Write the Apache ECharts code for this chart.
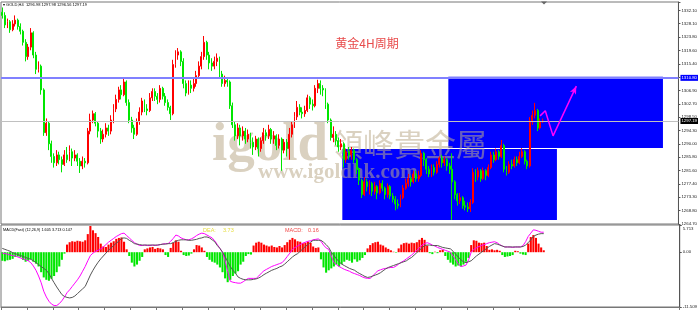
<!DOCTYPE html>
<html><head><meta charset="utf-8">
<script src="https://cdn.jsdelivr.net/npm/echarts@6/dist/echarts.min.js"></script>
<style>html,body{margin:0;padding:0;background:#fff}#c{width:700px;height:310px}</style>
</head><body><div id="c"></div>
<script>
// ---- data ----
const priorClose = 1331.5;
const closes = [1330.5,1327.5,1328.5,1326.0,1327.8,1329.0,1327.0,1325.5,1322.0,1317.5,
1320.5,1325.0,1318.0,1313.5,1314.5,1307.0,1293.5,1296.5,1290.0,1286.0,
1284.0,1286.5,1285.0,1283.5,1286.5,1285.0,1287.5,1285.5,1286.5,1284.5,
1283.0,1284.5,1284.0,1294.0,1297.5,1299.5,1296.5,1294.0,1291.5,1293.0,
1295.0,1294.0,1297.5,1301.0,1304.0,1307.0,1305.5,1309.5,1303.0,1297.5,
1295.0,1293.0,1297.0,1300.0,1303.5,1301.0,1300.5,1304.5,1306.5,1305.0,
1304.0,1307.5,1305.0,1303.0,1301.5,1299.5,1315.0,1318.0,1319.0,1316.0,
1309.0,1306.0,1308.5,1307.5,1309.0,1311.5,1314.5,1317.5,1322.0,1318.0,
1315.5,1314.5,1316.0,1317.0,1312.0,1309.0,1310.0,1309.5,1302.0,1296.0,
1292.5,1295.0,1292.5,1294.0,1291.5,1293.0,1290.5,1289.0,1291.5,1288.5,
1291.0,1293.5,1292.5,1294.5,1291.5,1292.5,1289.5,1291.5,1288.0,1290.5,
1288.5,1293.0,1296.0,1298.5,1301.5,1300.0,1299.5,1300.5,1304.5,1302.5,
1302.0,1307.5,1309.0,1307.5,1307.0,1302.5,1297.5,1292.0,1293.0,1291.0,
1289.0,1290.0,1285.0,1287.5,1286.5,1288.0,1285.0,1282.0,1278.5,1274.0,
1278.0,1276.5,1277.5,1275.0,1276.5,1274.5,1277.5,1276.0,1274.0,1276.5,
1273.5,1272.5,1271.0,1270.5,1273.0,1276.0,1277.5,1279.0,1278.0,1280.5,
1279.0,1280.0,1287.0,1285.0,1282.0,1280.5,1282.5,1281.0,1283.5,1285.5,
1284.0,1285.0,1283.0,1282.0,1278.0,1274.0,1272.0,1273.0,1270.5,1270.0,
1269.5,1271.5,1281.0,1279.5,1281.5,1279.0,1281.5,1280.0,1282.5,1286.5,
1285.0,1287.5,1286.0,1289.5,1282.0,1281.0,1283.5,1283.0,1285.0,1284.0,
1286.0,1287.5,1284.5,1283.0,1297.0,1299.0,1300.5,1295.0,1296.98,1297.19];
const highs = [1333,1331.5,1329.5,1329,1329,1330.5,1329.5,1328,1326,1323,
1321.5,1326.5,1325.5,1319,1316,1315,1307.5,1298,1297,1291,
1287,1288,1287.5,1286,1288,1289,1289.5,1288.5,1288,1287,
1285.5,1286,1285.5,1295,1299.5,1300.5,1300,1297,1295,1294.5,
1296.5,1296,1299,1302.5,1305.5,1308,1308.5,1310.7,1310,1304,
1298.5,1296,1298,1301.5,1304.5,1304,1302.5,1306,1307.5,1307.5,
1306,1308.5,1308,1306,1304,1302,1316.5,1319.5,1320.2,1319.5,
1317,1310,1310,1310,1310.5,1313,1316,1319,1324,1322.5,
1319,1317,1317.5,1318.5,1317.5,1313,1311.5,1311,1310,1303,
1297,1296.5,1296,1295.5,1295,1294.5,1293.5,1292,1292.5,1292,
1292,1295,1294.5,1296,1295,1294,1293,1293,1292,1291.5,
1291.5,1295,1297,1300,1303.5,1302.5,1301.5,1302,1305.5,1305,
1304,1308.5,1310.2,1310,1308.5,1307.5,1303,1298,1295.5,1294,
1292,1291.5,1290.5,1288.5,1289,1289,1288.5,1285.5,1282.5,1279,
1279.5,1279,1278.5,1278,1278,1277,1278.5,1278.5,1276.5,1277.5,
1277,1274.5,1273.5,1272.5,1274,1277,1279,1280.5,1280,1281.5,
1281.5,1281.5,1288,1287.5,1285.5,1283,1283.5,1283.5,1284.5,1286,
1286.5,1286,1285.5,1284,1287,1278.5,1274.5,1274.5,1273.5,1272,
1271.5,1272.5,1282.3,1282,1282.5,1282,1282.5,1282,1283.5,1287.5,
1287.5,1288.5,1288,1291.2,1290,1283,1284.5,1285,1286,1286,
1287.5,1288.6,1288,1285,1298.4,1300.5,1302.9,1301,1298,1297.98];
const lows = [1329.5,1326.5,1326.5,1325,1325.5,1327,1326,1324.5,1321,1316,
1316.5,1319.5,1317,1312,1312.5,1305.5,1292.5,1292.5,1288,1284,
1282.5,1283,1283.5,1281,1283,1284,1284.5,1283,1284.5,1283,
1280.8,1282,1282.5,1283.5,1293,1296.5,1295.5,1292,1290,1290.5,
1292,1292.5,1293,1296.5,1300,1303,1304,1305,1302,1296.5,
1293.5,1291.5,1292.5,1296,1299,1300,1299,1300,1303.5,1303.5,
1302.5,1303,1304,1302,1300.5,1297.5,1299,1314,1316.5,1314.5,
1307.5,1305,1305.5,1306,1306.5,1308,1310.5,1313.5,1316.5,1316.5,
1313.5,1313,1313.5,1314.5,1311,1308,1308,1308,1301,1295,
1291,1291.5,1289.5,1291,1290,1290.5,1288.5,1286.5,1288,1286,
1287.5,1290,1291,1291.5,1290,1290,1288,1288.5,1281.5,1287,
1286,1285,1292,1295,1297.5,1299,1298,1298.5,1300,1301,
1300.5,1301.5,1306,1305.5,1305,1301,1296.5,1291,1290.5,1289.5,
1287.5,1288,1282.5,1284,1285,1285,1284,1280.5,1277,1272.9,
1273.5,1275,1274,1273.5,1274,1272.5,1274,1275,1272.5,1273,
1272.5,1271.5,1269,1269.5,1270,1272.5,1275.5,1276.5,1276.5,1277.5,
1278,1278,1279.5,1283,1280.5,1279.5,1279.5,1280,1280.5,1282.5,
1282.5,1283,1281.5,1280.5,1266,1272.5,1270.5,1271,1269.5,1269,
1268.5,1268.5,1271,1278,1278.5,1278,1278.5,1278.5,1279.5,1282,
1284,1284.5,1285,1285.5,1281,1280,1280.5,1282,1282.5,1283,
1283.5,1285.5,1283.5,1282,1282.5,1296,1298,1294,1294.5,1296.56];
const macdHist = [-1.8,-1.9,-1.7,-1.6,-1.4,-1.0,-0.9,-1.1,-1.6,-2.0,
-1.8,-1.5,-2.0,-2.4,-3.0,-4.2,-5.3,-5.8,-6.0,-5.6,
-5.0,-4.2,-3.0,-1.6,-0.3,1.6,2.1,2.3,2.2,2.4,
2.3,2.2,2.5,3.8,5.5,4.6,4.0,3.2,1.8,1.2,
1.1,1.6,2.0,2.3,2.8,3.0,3.1,2.2,0.6,-0.8,
-2.2,-3.0,-2.6,-1.8,-1.0,0.6,0.8,1.0,1.1,0.7,
0.9,0.8,0.6,-0.6,-1.0,0.9,2.0,2.5,2.2,0.3,
-0.6,-0.8,-0.7,-0.3,0.6,1.5,1.4,1.0,0.3,-1.0,
-1.6,-2.0,-2.2,-2.6,-3.2,-4.2,-5.5,-6.3,-5.8,-5.0,
-4.5,-4.0,-2.6,-2.0,-0.8,-0.4,-0.5,1.4,2.0,2.2,
2.0,1.6,1.4,1.2,1.4,1.1,1.0,1.3,1.0,1.5,
2.1,2.6,3.0,2.7,2.3,2.2,1.9,2.0,2.2,2.0,
1.2,0.9,1.0,-1.5,-3.2,-4.3,-3.8,-3.4,-3.0,-2.6,
-3.0,-2.5,-2.0,-1.6,-1.8,-2.2,-1.5,-2.0,-1.7,-1.2,
-0.6,0.8,1.5,1.9,2.1,2.2,1.6,1.4,1.0,0.7,
0.4,0.1,-0.1,0.8,1.6,1.9,2.0,1.8,2.0,1.9,
2.1,2.6,3.0,2.6,1.4,-0.2,-0.4,0.1,-0.2,0.4,
0.5,-0.8,-1.6,-2.2,-2.6,-3.0,-2.8,-3.0,-2.6,-2.0,
-1.2,1.5,2.5,2.4,2.0,1.9,2.0,1.3,0.5,0.6,
0.4,0.5,0.3,-0.6,-1.0,-0.9,-0.8,-0.6,0.3,0.2,
-0.3,-0.5,-0.6,1.8,3.2,3.6,3.0,1.8,1.0,0.4];
const difLine = [-0.2,-0.3,-0.4,-0.6,-0.7,-0.8,-1.0,-1.2,-1.4,-1.6,
-1.8,-2.2,-2.9,-3.8,-5.0,-6.4,-8.2,-9.4,-10.3,-10.9,
-11.2,-11.2,-10.8,-10.2,-9.4,-8.5,-7.9,-7.2,-6.5,-5.8,
-5.0,-4.0,-3.0,-1.8,-0.7,-0.2,0.2,0.4,0.7,1.1,
1.6,2.1,2.5,2.9,3.3,3.6,3.9,4.0,3.5,3.0,
2.5,2.0,1.7,1.4,1.4,1.5,1.4,1.4,1.5,1.4,
1.5,1.6,1.7,1.8,1.8,2.3,2.9,3.6,3.4,3.0,
2.8,2.6,2.6,2.8,3.1,3.5,3.8,4.0,3.9,3.6,
3.3,3.0,2.4,1.6,0.8,0.0,-1.8,-4.0,-6.1,-6.3,
-6.4,-6.5,-6.5,-6.2,-5.8,-5.5,-5.5,-5.5,-5.5,-5.0,
-4.4,-3.9,-3.6,-3.3,-3.0,-2.8,-2.6,-2.4,-2.2,-1.6,
-0.9,-0.2,0.6,1.0,1.3,1.6,1.9,2.1,2.3,2.4,
2.6,2.7,2.8,2.3,1.5,0.9,0.6,-0.8,-2.2,-2.6,
-3.0,-3.3,-3.6,-3.8,-4.0,-4.3,-4.5,-4.7,-4.9,-5.2,
-5.4,-5.5,-5.5,-5.0,-4.4,-3.9,-3.7,-3.5,-3.4,-3.3,
-3.2,-3.2,-2.9,-2.5,-2.1,-1.8,-1.4,-1.0,-0.6,-0.1,
0.4,0.9,1.5,1.8,2.0,1.8,1.5,1.3,1.0,0.8,
0.6,0.4,0.2,0.0,-0.8,-1.6,-2.4,-3.0,-2.9,-2.7,
-1.6,0.0,0.6,0.9,1.2,1.4,1.6,1.8,2.0,2.1,
2.2,2.0,1.6,1.3,1.1,1.1,1.1,1.0,1.1,1.1,
1.1,1.4,2.2,3.3,4.0,4.7,4.6,4.4,4.2,4.2];
const deaLine = [0.8,0.6,0.4,0.2,-0.1,-0.3,-0.5,-0.7,-0.9,-1.1,
-1.3,-1.5,-1.8,-2.2,-2.6,-3.0,-3.4,-3.8,-4.5,-5.5,
-6.4,-7.3,-8.1,-8.9,-9.3,-9.5,-9.6,-9.5,-9.2,-8.7,
-8.2,-7.7,-7.2,-6.0,-4.8,-3.8,-2.9,-2.1,-1.4,-0.8,
-0.2,0.4,0.9,1.4,1.9,2.3,2.9,3.0,2.9,2.5,
2.2,1.8,1.7,1.6,1.5,1.5,1.5,1.5,1.5,1.5,
1.5,1.6,1.7,1.7,1.8,1.8,2.0,2.3,2.5,2.6,
2.6,2.6,2.5,2.5,2.6,2.7,2.9,3.0,3.2,3.2,
3.0,2.6,2.2,1.4,0.8,0.0,-0.9,-2.0,-3.0,-3.8,
-4.4,-5.2,-5.5,-5.7,-5.8,-5.8,-5.8,-5.7,-5.6,-5.4,
-5.1,-4.7,-4.4,-4.1,-3.8,-3.6,-3.4,-3.1,-2.9,-2.5,
-2.0,-1.5,-1.0,-0.6,-0.3,0.2,0.7,1.2,1.6,2.1,
2.5,2.5,2.5,2.5,2.1,1.6,1.0,0.0,-0.7,-1.4,
-2.0,-2.5,-2.8,-3.1,-3.4,-3.6,-3.8,-4.2,-4.5,-4.8,
-5.1,-5.3,-5.2,-5.0,-4.8,-4.6,-4.3,-3.9,-3.5,-3.2,
-3.0,-2.8,-2.6,-2.4,-2.2,-2.0,-1.8,-1.4,-1.1,-0.6,
-0.1,0.4,0.9,1.4,1.5,1.5,1.4,1.4,1.4,1.2,
1.0,0.9,0.8,0.7,0.2,-0.4,-1.0,-1.6,-2.0,-2.2,
-2.0,-1.8,-1.3,-0.8,-0.4,0.0,0.4,0.8,1.2,1.5,
1.8,1.7,1.5,1.3,1.1,1.1,1.1,1.1,1.1,1.1,
1.1,1.2,1.5,2.0,2.6,3.3,3.6,3.8,3.9,3.9];
const priceTickLabels = ['1264.70','1268.80','1273.30','1277.40','1281.60','1285.80','1290.00','1294.30','1298.50','1302.70','1306.90','','1315.40','1319.60','1323.80','1328.10','1332.10'];
const priceTickStep = 4.2125;
const priceAxisMin = 1264.7, priceAxisMax = 1334.73;
const macdTickValues = [-11.509, 0, 5.713];
const macdTickLabels = ['-11.509', '0.00', '5.713'];
const resistanceLevel = 1310.8;
const lastPrice = 1297.19;
const boxes = [[173, 255, 1311.17, 1288.67], [132, 214, 1288.36, 1265.96]]; // [fromBar, toBar, top, bottom]
const forecastPath = [[208, 1298.8], [210, 1300.4], [213, 1292.5], [222, 1308.2]];
const slotCount = 262;
const slots = Array.from({length: slotCount}, (_, i) => String(i));

// ---- build ----
const candles = closes.map((c, i) => [i ? closes[i - 1] : priorClose, c, lows[i], highs[i]]);
const pathData = slots.map(() => null);
forecastPath.forEach((p, k) => {
  pathData[p[0]] = k === forecastPath.length - 1
    ? {value: p[1], symbol: 'arrow', symbolSize: [5, 8], symbolRotate: -25, itemStyle: {color: '#ff00ff'}}
    : p[1];
});
const UP = '#ff0000', DOWN = '#00e600';
const wm = 'rgba(188,172,140,0.55)';

const chart = echarts.init(document.getElementById('c'), null, {renderer: 'canvas'});
chart.setOption({
  animation: false,
  backgroundColor: '#ffffff',
  grid: [
    {left: 1, right: 20, top: 2, height: 222, show: true, borderColor: '#777', borderWidth: 1, backgroundColor: 'transparent'},
    {left: 1, right: 20, top: 225, height: 82, show: true, borderColor: '#777', borderWidth: 1, backgroundColor: 'transparent'}
  ],
  xAxis: [
    {type: 'category', gridIndex: 0, data: slots, boundaryGap: true, show: false},
    {type: 'category', gridIndex: 1, data: slots, boundaryGap: true,
     axisLine: {show: true, onZero: false, lineStyle: {color: '#777'}},
     axisTick: {show: true, length: 3, lineStyle: {color: '#777'}, interval: (i) => i % 10 === 0 && i <= 200},
     axisLabel: {show: false}, splitLine: {show: false}}
  ],
  yAxis: [
    {type: 'value', gridIndex: 0, position: 'right', min: priceAxisMin, max: priceAxisMax, scale: true,
     axisLine: {show: true, lineStyle: {color: '#555'}}, axisTick: {show: false}, axisLabel: {show: false}, splitLine: {show: false}},
    {type: 'value', gridIndex: 0, position: 'right', min: 0, max: priceAxisMax - priceAxisMin, interval: priceTickStep,
     axisLine: {show: false}, axisTick: {show: true, length: 2, lineStyle: {color: '#555'}}, splitLine: {show: false},
     axisLabel: {show: true, margin: 3, fontSize: 4.3, color: '#222', fontFamily: 'Liberation Sans',
       formatter: (v) => priceTickLabels[Math.round(v / priceTickStep)] || ''}},
    {type: 'value', gridIndex: 1, position: 'right', min: -11.509, max: 5.713, interval: 11.509,
     axisLine: {show: true, lineStyle: {color: '#555'}}, axisTick: {show: true, length: 2, lineStyle: {color: '#555'}}, splitLine: {show: false},
     axisLabel: {show: true, margin: 3, fontSize: 4.3, color: '#222', fontFamily: 'Liberation Sans',
       formatter: (v) => {
         let k = 0; macdTickValues.forEach((t, j) => { if (Math.abs(t - v) < Math.abs(macdTickValues[k] - v)) k = j; });
         return k === 2 ? '{t|' + macdTickLabels[k] + '}' : macdTickLabels[k];
       },
       rich: {t: {fontSize: 4.3, color: '#222', fontFamily: 'Liberation Sans', padding: [7, 0, 0, 0]}}}}
  ],
  graphic: {elements: [
    {type: 'text', z: 1.5, silent: true, style: {x: 212, y: 146, text: 'igold', font: 'bold 55px "Liberation Serif"', fill: wm, align: 'left', verticalAlign: 'middle', textAlign: 'left', textVerticalAlign: 'middle'}},
    {type: 'text', z: 1.5, silent: true, style: {x: 332, y: 144, text: '領峰貴金屬', font: '31px "Noto Sans CJK TC"', fill: wm, align: 'left', verticalAlign: 'middle', textAlign: 'left', textVerticalAlign: 'middle'}},
    {type: 'text', z: 1.5, silent: true, style: {x: 258, y: 173, text: 'www.igoldhk.com', font: 'bold 21px "Liberation Serif"', fill: wm, align: 'left', verticalAlign: 'middle', textAlign: 'left', textVerticalAlign: 'middle'}},
    {type: 'text', z: 10, silent: true, style: {x: 367, y: 43, text: '黄金4H周期', font: '12px "Noto Sans CJK SC"', fill: '#e84a4a', align: 'center', verticalAlign: 'middle', textAlign: 'center', textVerticalAlign: 'middle'}},
    {type: 'text', z: 10, silent: true, style: {x: 3, y: 4.5, text: '▾ GOLD,H4  1296.98 1297.98 1296.56 1297.19', font: '4px "Liberation Sans"', fill: '#000', align: 'left', verticalAlign: 'middle', textAlign: 'left', textVerticalAlign: 'middle'}},
    {type: 'text', z: 10, silent: true, style: {x: 3, y: 230, text: 'MACD(Fast) (12,26,9) 1.605 3.713 0.147', font: '3.8px "Liberation Sans"', fill: '#000', align: 'left', verticalAlign: 'middle', textAlign: 'left', textVerticalAlign: 'middle'}},
    {type: 'text', z: 10, silent: true, style: {x: 203, y: 230, text: 'DEA:', font: '5.5px "Liberation Sans"', fill: '#e6dc3c', align: 'left', verticalAlign: 'middle', textAlign: 'left', textVerticalAlign: 'middle'}},
    {type: 'text', z: 10, silent: true, style: {x: 223, y: 230, text: '3.73', font: '5.5px "Liberation Sans"', fill: '#e6dc3c', align: 'left', verticalAlign: 'middle', textAlign: 'left', textVerticalAlign: 'middle'}},
    {type: 'text', z: 10, silent: true, style: {x: 285, y: 230, text: 'MACD:', font: '5.5px "Liberation Sans"', fill: '#f04848', align: 'left', verticalAlign: 'middle', textAlign: 'left', textVerticalAlign: 'middle'}},
    {type: 'text', z: 10, silent: true, style: {x: 308, y: 230, text: '0.16', font: '5.5px "Liberation Sans"', fill: '#f04848', align: 'left', verticalAlign: 'middle', textAlign: 'left', textVerticalAlign: 'middle'}},
    {type: 'polygon', z: 10, silent: true, shape: {points: [[541, 1.5], [547, 1.5], [544, 4.5]]}, style: {fill: '#666'}}
  ]},
  series: [
    {type: 'custom', xAxisIndex: 0, yAxisIndex: 0, z: 1, silent: true, clip: false,
     data: boxes, encode: {x: [0, 1], y: [2, 3]},
     renderItem: (params, api) => {
       const p0 = api.coord([api.value(0), api.value(2)]);
       const p1 = api.coord([api.value(1), api.value(3)]);
       const bw = api.size([1, 0])[0];
       return {type: 'rect', shape: {x: p0[0] - bw / 2, y: p0[1], width: p1[0] - p0[0] + bw, height: p1[1] - p0[1]}, style: {fill: '#0000ff'}};
     }},
    {type: 'candlestick', xAxisIndex: 0, yAxisIndex: 0, z: 5, data: candles, barWidth: '55%',
     itemStyle: {color: UP, color0: DOWN, borderColor: UP, borderColor0: DOWN, borderWidth: 1},
     markLine: {silent: true, symbol: ['none', 'none'], animation: false, z: 6,
       data: [
         {yAxis: resistanceLevel, lineStyle: {color: '#8080ff', width: 2, type: 'solid'},
          label: {show: true, position: 'end', distance: 2, formatter: resistanceLevel.toFixed(2), color: '#fff', backgroundColor: '#0000ff', fontSize: 4.3, padding: [1, 1], fontFamily: 'Liberation Sans'}},
         {yAxis: lastPrice, lineStyle: {color: '#c0c0c0', width: 1, type: 'solid'},
          label: {show: true, position: 'end', distance: 2, formatter: lastPrice.toFixed(2), color: '#fff', backgroundColor: '#000', fontSize: 4.3, padding: [1, 1], fontFamily: 'Liberation Sans'}}
       ]}},
    {type: 'line', xAxisIndex: 0, yAxisIndex: 0, z: 7, data: pathData, connectNulls: true, showSymbol: true, showAllSymbol: true, symbol: 'none',
     lineStyle: {color: '#ff00ff', width: 1.5}, itemStyle: {color: '#ff00ff'}},
    {type: 'bar', xAxisIndex: 1, yAxisIndex: 2, barWidth: '80%',
     data: macdHist.map(v => ({value: v, itemStyle: {color: v >= 0 ? UP : DOWN}}))},
    {type: 'line', xAxisIndex: 1, yAxisIndex: 2, data: difLine, symbol: 'none', lineStyle: {color: '#ff00ff', width: 1}, z: 4},
    {type: 'line', xAxisIndex: 1, yAxisIndex: 2, data: deaLine, symbol: 'none', lineStyle: {color: '#555555', width: 1}, z: 4}
  ]
});
</script></body></html>
